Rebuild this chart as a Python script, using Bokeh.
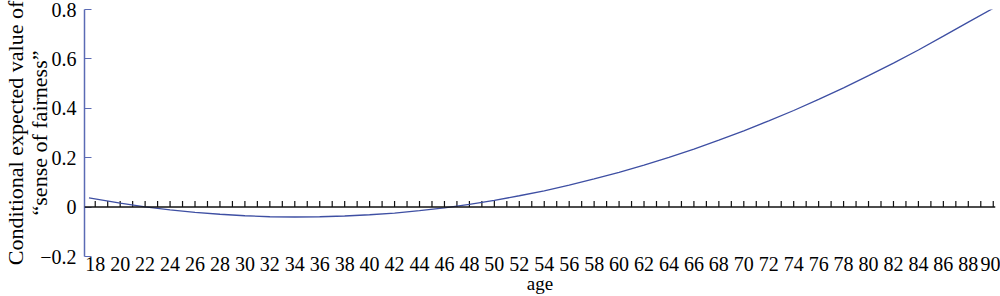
import math
from bokeh.plotting import figure
from bokeh.models import FixedTicker, Span, Range1d
from bokeh.embed import file_html
from bokeh.resources import INLINE

# Curve values
ages = [17.5, 20, 22, 24, 26, 28, 30, 32, 34, 36, 38, 40, 42, 44, 46, 48, 50,
        52, 54, 56, 58, 60, 62, 64, 66, 68, 70, 72, 74, 76, 78, 80, 82, 84,
        86, 88, 90]
expected_value = [0.037, 0.016, 0.001, -0.011, -0.021, -0.029, -0.035, -0.039,
                  -0.040, -0.039, -0.036, -0.031, -0.024, -0.014, -0.003, 0.011,
                  0.027, 0.046, 0.066, 0.089, 0.114, 0.141, 0.170, 0.201, 0.235,
                  0.271, 0.309, 0.349, 0.391, 0.436, 0.483, 0.532, 0.583, 0.636,
                  0.692, 0.749, 0.805]

x_label_ticks = list(range(18, 91, 2))
x_minor_ticks = list(range(18, 91, 1))
y_ticks = [-0.2, 0, 0.2, 0.4, 0.6, 0.8]
y_tick_labels = ["\u22120.2", "0", "0.2", "0.4", "0.6", "0.8"]

FONT = "Liberation Serif"
CURVE = "#3e4fa3"
AXIS_BLUE = "#5a6ab4"

p = figure(width=1000, height=296, output_backend="svg", toolbar_location=None,
           x_range=Range1d(17.14, 90.18), y_range=Range1d(-0.2, 0.8),
           min_border_top=9, min_border_right=5, min_border_left=0,
           min_border_bottom=0)
p.outline_line_color = None
p.grid.visible = False
p.background_fill_color = "white"
p.border_fill_color = "white"

# x axis (labels only at bottom)
xa = p.xaxis[0]
xa.ticker = FixedTicker(ticks=x_label_ticks)
xa.axis_line_color = None
xa.major_tick_line_color = None
xa.minor_tick_line_color = None
xa.major_tick_in = 0
xa.major_tick_out = 0
xa.major_label_text_font = FONT
xa.major_label_text_font_size = "20px"
xa.major_label_text_color = "black"
xa.major_label_standoff = 0
xa.axis_label = "age"
xa.axis_label_text_font = FONT
xa.axis_label_text_font_size = "19px"
xa.axis_label_text_font_style = "normal"
xa.axis_label_text_color = "black"
xa.axis_label_standoff = -1

# y axis
ya = p.yaxis[0]
ya.ticker = FixedTicker(ticks=y_ticks)
ya.major_label_overrides = {t: s for t, s in zip(y_ticks, y_tick_labels)}
ya.axis_line_color = AXIS_BLUE
ya.axis_line_width = 1.5
ya.major_tick_line_color = AXIS_BLUE
ya.major_tick_in = 7
ya.major_tick_out = 0
ya.minor_tick_line_color = None
ya.major_label_text_font = FONT
ya.major_label_text_font_size = "20px"
ya.major_label_text_color = "black"
ya.major_label_standoff = 8
ya.axis_label = "Conditional expected value of\n\u201csense of fairness\u201d"
ya.axis_label_text_font = FONT
ya.axis_label_text_font_size = "22px"
ya.axis_label_text_font_style = "normal"
ya.axis_label_text_color = "black"
ya.axis_label_text_line_height = 0.95
ya.axis_label_standoff = -15

# zero line with per-year ticks
p.add_layout(Span(location=0, dimension="width", line_color="#111111", line_width=1.5))
p.ray(x=x_minor_ticks, y=[0] * len(x_minor_ticks), length=6, length_units="screen",
      angle=math.pi / 2, line_color="#111111", line_width=1.2)

p.line(ages, expected_value, line_color=CURVE, line_width=1.3)

open("out.html", "w").write(file_html(p, INLINE))
